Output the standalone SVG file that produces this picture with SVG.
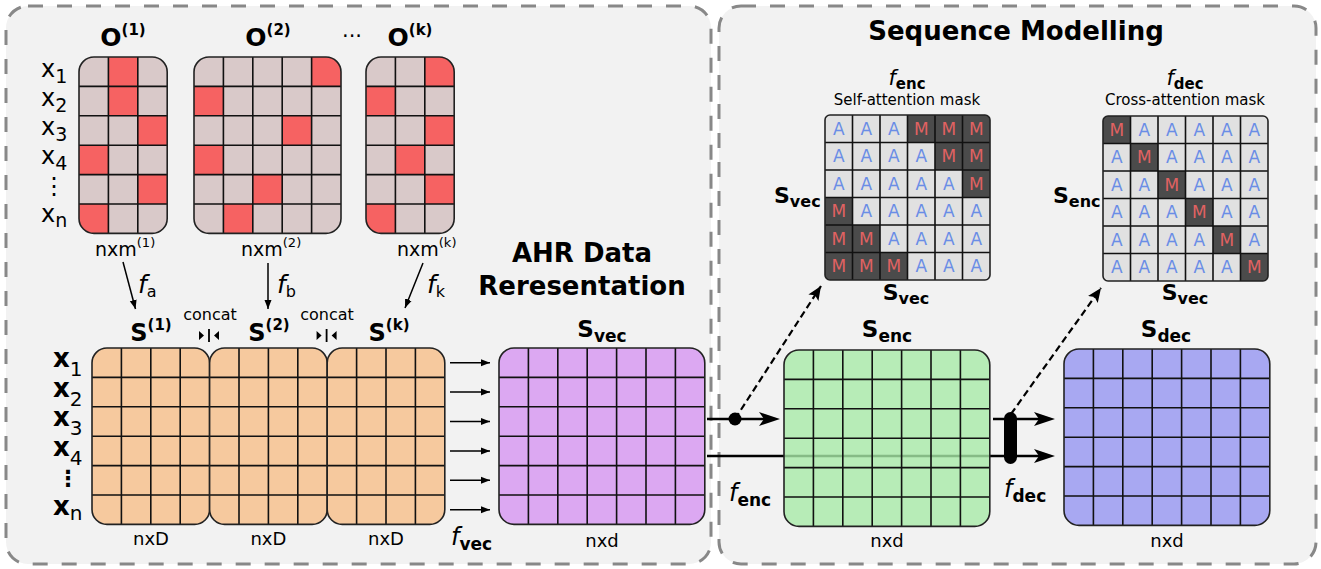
<svg xmlns="http://www.w3.org/2000/svg" width="1321" height="569" viewBox="0 0 1321 569">
<style>
text{font-family:"DejaVu Sans","Liberation Sans",sans-serif;fill:#000}
.b{font-weight:bold}
.i{font-style:italic}
.grid{fill:none;stroke:#111;stroke-width:1.6}
.out{fill:none;stroke:#222;stroke-width:1.6}
.panel{fill:#f2f2f2;stroke:#888;stroke-width:3;stroke-dasharray:15 14}
.gray{fill:#d9c9c9}
.red{fill:#f66262}
.peach{fill:#f6c99e}
.purple{fill:#dca8f2}
.green{fill:#a7eaa7;fill-opacity:.8}
.blue{fill:#a8a8f2}
.lt{fill:#e1e1e1}
.dk{fill:#4b4b4b}
.a{fill:#6a8de6;font-size:17px;text-anchor:middle}
.m{fill:#e06262;font-size:17px;text-anchor:middle}
.thin{stroke:#000;stroke-width:1.5;fill:none;marker-end:url(#ah)}
.thick{stroke:#000;stroke-width:2.5;fill:none}
.tarr{marker-end:url(#ahb)}
.dash{stroke:#000;stroke-width:2.2;fill:none;stroke-dasharray:7 4;marker-end:url(#ahd)}
</style>
<defs>
<marker id="ah" markerUnits="userSpaceOnUse" markerWidth="10" markerHeight="8" refX="9" refY="4" orient="auto"><path d="M0,0.5 L9,4 L0,7.5z" fill="#000"/></marker>
<marker id="ahb" markerUnits="userSpaceOnUse" markerWidth="22" markerHeight="14" refX="9" refY="7" orient="auto"><path d="M0,0 L21,7 L0,14 L5,7z" fill="#000"/></marker>
<marker id="ahd" markerUnits="userSpaceOnUse" markerWidth="15" markerHeight="12" refX="14" refY="6" orient="auto"><path d="M0,0 L14,6 L0,12 L3,6z" fill="#000"/></marker>
<clipPath id="cO1"><rect x="79" y="57" width="88.2" height="176.4" rx="15"/></clipPath>
<clipPath id="cO2"><rect x="194" y="57" width="147" height="176.4" rx="15"/></clipPath>
<clipPath id="cOk"><rect x="366" y="57" width="88.2" height="176.4" rx="15"/></clipPath>
<clipPath id="cSelf"><rect x="825" y="115" width="165" height="165" rx="5"/></clipPath>
<clipPath id="cCross"><rect x="1103" y="116" width="165" height="165" rx="5"/></clipPath>
</defs>

<g id="panels">
<rect id="panel-left" class="panel" x="6" y="6" width="705" height="558" rx="22"/>
<rect id="panel-right" class="panel" x="719" y="6" width="597" height="558" rx="22"/>
</g>

<g id="connectors">
<path class="thin" d="M123,262 L135.5,309"/>
<path class="thin" d="M268,263 V309"/>
<path class="thin" d="M423,263 L405,308"/>
<path class="thin" d="M450,362.7 H490"/>
<path class="thin" d="M450,392.1 H490"/>
<path class="thin" d="M450,421.5 H490"/>
<path class="thin" d="M450,450.9 H490"/>
<path class="thin" d="M450,480.3 H490"/>
<path class="thin" d="M450,509.7 H490"/>
<path class="thick tarr" d="M707,419 H768"/>
<path class="thick tarr" d="M707,456 H1043"/>
<path class="thick tarr" d="M993,419 H1043"/>
<circle cx="735" cy="419" r="6.5" fill="#000"/>
<path class="dash" d="M735,419 L821,286"/>
<rect x="1004" y="412" width="13" height="52" rx="6.5" fill="#000"/>
<path class="dash" d="M1011,414 L1101,288"/>
</g>

<g id="O1">
<rect class="gray" x="79" y="57" width="88.2" height="176.4" rx="15"/>
<g clip-path="url(#cO1)" class="red">
<rect x="108.4" y="57" width="29.4" height="29.4"/><rect x="108.4" y="86.4" width="29.4" height="29.4"/><rect x="137.8" y="115.8" width="29.4" height="29.4"/><rect x="79" y="145.2" width="29.4" height="29.4"/><rect x="137.8" y="174.6" width="29.4" height="29.4"/><rect x="79" y="204" width="29.4" height="29.4"/>
</g>
<path class="grid" d="M108.4,57V233.4M137.8,57V233.4M79,86.4H167.2M79,115.8H167.2M79,145.2H167.2M79,174.6H167.2M79,204H167.2"/>
<rect class="out" x="79" y="57" width="88.2" height="176.4" rx="15"/>
<text class="b" x="123" y="46" text-anchor="middle"><tspan font-size="25">O</tspan><tspan font-size="15" dy="-11">(1)</tspan></text>
<text x="95" y="256" font-size="19">nxm<tspan font-size="13" dy="-9">(1)</tspan></text>
</g>

<g id="O2">
<rect class="gray" x="194" y="57" width="147" height="176.4" rx="15"/>
<g clip-path="url(#cO2)" class="red">
<rect x="311.6" y="57" width="29.4" height="29.4"/><rect x="194" y="86.4" width="29.4" height="29.4"/><rect x="282.2" y="115.8" width="29.4" height="29.4"/><rect x="194" y="145.2" width="29.4" height="29.4"/><rect x="252.8" y="174.6" width="29.4" height="29.4"/><rect x="223.4" y="204" width="29.4" height="29.4"/>
</g>
<path class="grid" d="M223.4,57V233.4M252.8,57V233.4M282.2,57V233.4M311.6,57V233.4M194,86.4H341M194,115.8H341M194,145.2H341M194,174.6H341M194,204H341"/>
<rect class="out" x="194" y="57" width="147" height="176.4" rx="15"/>
<text class="b" x="268" y="46" text-anchor="middle"><tspan font-size="25">O</tspan><tspan font-size="15" dy="-11">(2)</tspan></text>
<text x="241" y="256" font-size="19">nxm<tspan font-size="13" dy="-9">(2)</tspan></text>
</g>

<text x="352" y="37" font-size="21" text-anchor="middle">...</text>

<g id="Ok">
<rect class="gray" x="366" y="57" width="88.2" height="176.4" rx="15"/>
<g clip-path="url(#cOk)" class="red">
<rect x="424.8" y="57" width="29.4" height="29.4"/><rect x="366" y="86.4" width="29.4" height="29.4"/><rect x="424.8" y="115.8" width="29.4" height="29.4"/><rect x="395.4" y="145.2" width="29.4" height="29.4"/><rect x="424.8" y="174.6" width="29.4" height="29.4"/><rect x="366" y="204" width="29.4" height="29.4"/>
</g>
<path class="grid" d="M395.4,57V233.4M424.8,57V233.4M366,86.4H454.2M366,115.8H454.2M366,145.2H454.2M366,174.6H454.2M366,204H454.2"/>
<rect class="out" x="366" y="57" width="88.2" height="176.4" rx="15"/>
<text class="b" x="410" y="46" text-anchor="middle"><tspan font-size="25">O</tspan><tspan font-size="15" dy="-11">(k)</tspan></text>
<text x="397" y="256" font-size="19">nxm<tspan font-size="13" dy="-9">(k)</tspan></text>
</g>

<g id="x-labels-top" font-size="24">
<text x="41" y="77">x<tspan font-size="19" dy="6">1</tspan></text>
<text x="41" y="106">x<tspan font-size="19" dy="6">2</tspan></text>
<text x="41" y="135">x<tspan font-size="19" dy="6">3</tspan></text>
<text x="41" y="164">x<tspan font-size="19" dy="6">4</tspan></text>
<text x="54" y="194" text-anchor="middle">⋮</text>
<text x="41" y="222">x<tspan font-size="19" dy="5">n</tspan></text>
</g>

<g id="fa-labels">
<text x="138" y="293"><tspan class="i" font-size="25">f</tspan><tspan font-size="16" dy="4">a</tspan></text>
<text x="277" y="293"><tspan class="i" font-size="25">f</tspan><tspan font-size="16" dy="4">b</tspan></text>
<text x="427" y="293"><tspan class="i" font-size="25">f</tspan><tspan font-size="16" dy="4">k</tspan></text>
</g>

<g id="S1">
<rect class="peach" x="92" y="348" width="117.6" height="176.4" rx="15"/>
<path class="grid" d="M121.4,348V524.4M150.8,348V524.4M180.2,348V524.4M92,377.4H209.6M92,406.8H209.6M92,436.2H209.6M92,465.6H209.6M92,495H209.6"/>
<rect class="out" x="92" y="348" width="117.6" height="176.4" rx="15"/>
<text class="b" x="151" y="341" text-anchor="middle"><tspan font-size="24">S</tspan><tspan font-size="15" dy="-11">(1)</tspan></text>
<text x="151" y="545" font-size="18" text-anchor="middle">nxD</text>
</g>
<g id="S2">
<rect class="peach" x="209.6" y="348" width="117.6" height="176.4" rx="15"/>
<path class="grid" d="M239,348V524.4M268.4,348V524.4M297.8,348V524.4M209.6,377.4H327.2M209.6,406.8H327.2M209.6,436.2H327.2M209.6,465.6H327.2M209.6,495H327.2"/>
<rect class="out" x="209.6" y="348" width="117.6" height="176.4" rx="15"/>
<text class="b" x="269" y="341" text-anchor="middle"><tspan font-size="24">S</tspan><tspan font-size="15" dy="-11">(2)</tspan></text>
<text x="268.4" y="545" font-size="18" text-anchor="middle">nxD</text>
</g>
<g id="Sk">
<rect class="peach" x="327.2" y="348" width="117.6" height="176.4" rx="15"/>
<path class="grid" d="M356.6,348V524.4M386,348V524.4M415.4,348V524.4M327.2,377.4H444.8M327.2,406.8H444.8M327.2,436.2H444.8M327.2,465.6H444.8M327.2,495H444.8"/>
<rect class="out" x="327.2" y="348" width="117.6" height="176.4" rx="15"/>
<text class="b" x="389" y="341" text-anchor="middle"><tspan font-size="24">S</tspan><tspan font-size="15" dy="-11">(k)</tspan></text>
<text x="386" y="545" font-size="18" text-anchor="middle">nxD</text>
</g>

<g id="concat">
<text x="210" y="320" font-size="16" text-anchor="middle">concat</text>
<text x="327" y="320" font-size="16" text-anchor="middle">concat</text>
<path d="M199,331 L204,335.5 L199,340z M219,331 L214,335.5 L219,340z M316.6,331 L321.6,335.5 L316.6,340z M336.6,331 L331.6,335.5 L336.6,340z" fill="#000"/>
<path d="M209,329V342 M326.6,329V342" stroke="#000" stroke-width="1.8"/>
</g>

<g id="x-labels-bottom">
<text x="53" y="367"><tspan class="b" font-size="26">x</tspan><tspan font-size="20" dy="9">1</tspan></text>
<text x="53" y="396.5"><tspan class="b" font-size="26">x</tspan><tspan font-size="20" dy="9">2</tspan></text>
<text x="53" y="426"><tspan class="b" font-size="26">x</tspan><tspan font-size="20" dy="9">3</tspan></text>
<text x="53" y="455.5"><tspan class="b" font-size="26">x</tspan><tspan font-size="20" dy="9">4</tspan></text>
<text x="68" y="486" class="b" font-size="22" text-anchor="middle">⋮</text>
<text x="53" y="515"><tspan class="b" font-size="26">x</tspan><tspan font-size="20" dy="5">n</tspan></text>
</g>

<text x="451" y="545"><tspan class="i" font-size="24">f</tspan><tspan class="b" font-size="17" dy="5">vec</tspan></text>

<g id="ahr-title" class="b" font-size="26">
<text x="582" y="262" text-anchor="middle">AHR Data</text>
<text x="582" y="295" text-anchor="middle">Reresentation</text>
</g>

<g id="Svec">
<rect class="purple" x="499" y="348" width="205.8" height="176.4" rx="15"/>
<path class="grid" d="M528.4,348V524.4M557.8,348V524.4M587.2,348V524.4M616.6,348V524.4M646,348V524.4M675.4,348V524.4M499,377.4H704.8M499,406.8H704.8M499,436.2H704.8M499,465.6H704.8M499,495H704.8"/>
<rect class="out" x="499" y="348" width="205.8" height="176.4" rx="15"/>
<text class="b" x="602" y="337" text-anchor="middle"><tspan font-size="23">S</tspan><tspan font-size="17" dy="5">vec</tspan></text>
<text x="602" y="547" font-size="18" text-anchor="middle">nxd</text>
</g>

<text class="b" x="1016" y="40" font-size="26" text-anchor="middle">Sequence Modelling</text>

<g id="self-mask">
<rect class="lt" x="825" y="115" width="165" height="165" rx="5"/>
<g clip-path="url(#cSelf)" class="dk">
<rect x="907.5" y="115" width="82.5" height="27.5"/><rect x="935" y="142.5" width="55" height="27.5"/><rect x="962.5" y="170" width="27.5" height="27.5"/><rect x="825" y="197.5" width="27.5" height="27.5"/><rect x="825" y="225" width="55" height="27.5"/><rect x="825" y="252.5" width="82.5" height="27.5"/>
</g>
<path class="grid" d="M852.5,115V280M880,115V280M907.5,115V280M935,115V280M962.5,115V280M825,142.5H990M825,170H990M825,197.5H990M825,225H990M825,252.5H990"/>
<rect class="out" x="825" y="115" width="165" height="165" rx="5"/>
<text class="a" x="838.75 866.25 893.75" y="134.75">AAA</text><text class="m" x="921.25 948.75 976.25" y="134.75">MMM</text>
<text class="a" x="838.75 866.25 893.75 921.25" y="162.25">AAAA</text><text class="m" x="948.75 976.25" y="162.25">MM</text>
<text class="a" x="838.75 866.25 893.75 921.25 948.75" y="189.75">AAAAA</text><text class="m" x="976.25" y="189.75">M</text>
<text class="m" x="838.75" y="217.25">M</text><text class="a" x="866.25 893.75 921.25 948.75 976.25" y="217.25">AAAAA</text>
<text class="m" x="838.75 866.25" y="244.75">MM</text><text class="a" x="893.75 921.25 948.75 976.25" y="244.75">AAAA</text>
<text class="m" x="838.75 866.25 893.75" y="272.25">MMM</text><text class="a" x="921.25 948.75 976.25" y="272.25">AAA</text>
<text x="907" y="85" text-anchor="middle"><tspan class="i" font-size="21">f</tspan><tspan class="b" font-size="15" dy="4">enc</tspan></text>
<text x="907" y="105" font-size="15" text-anchor="middle">Self-attention mask</text>
<text class="b" x="774" y="203"><tspan font-size="22">S</tspan><tspan font-size="16" dy="4">vec</tspan></text>
<text class="b" x="906" y="300" text-anchor="middle"><tspan font-size="22">S</tspan><tspan font-size="16" dy="4">vec</tspan></text>
</g>

<g id="cross-mask">
<rect class="lt" x="1103" y="116" width="165" height="165" rx="5"/>
<g clip-path="url(#cCross)" class="dk">
<rect x="1103" y="116" width="27.5" height="27.5"/><rect x="1130.5" y="143.5" width="27.5" height="27.5"/><rect x="1158" y="171" width="27.5" height="27.5"/><rect x="1185.5" y="198.5" width="27.5" height="27.5"/><rect x="1213" y="226" width="27.5" height="27.5"/><rect x="1240.5" y="253.5" width="27.5" height="27.5"/>
</g>
<path class="grid" d="M1130.5,116V281M1158,116V281M1185.5,116V281M1213,116V281M1240.5,116V281M1103,143.5H1268M1103,171H1268M1103,198.5H1268M1103,226H1268M1103,253.5H1268"/>
<rect class="out" x="1103" y="116" width="165" height="165" rx="5"/>
<text class="m" x="1116.75" y="135.75">M</text><text class="a" x="1144.25 1171.75 1199.25 1226.75 1254.25" y="135.75">AAAAA</text>
<text class="a" x="1116.75" y="163.25">A</text><text class="m" x="1144.25" y="163.25">M</text><text class="a" x="1171.75 1199.25 1226.75 1254.25" y="163.25">AAAA</text>
<text class="a" x="1116.75 1144.25" y="190.75">AA</text><text class="m" x="1171.75" y="190.75">M</text><text class="a" x="1199.25 1226.75 1254.25" y="190.75">AAA</text>
<text class="a" x="1116.75 1144.25 1171.75" y="218.25">AAA</text><text class="m" x="1199.25" y="218.25">M</text><text class="a" x="1226.75 1254.25" y="218.25">AA</text>
<text class="a" x="1116.75 1144.25 1171.75 1199.25" y="245.75">AAAA</text><text class="m" x="1226.75" y="245.75">M</text><text class="a" x="1254.25" y="245.75">A</text>
<text class="a" x="1116.75 1144.25 1171.75 1199.25 1226.75" y="273.25">AAAAA</text><text class="m" x="1254.25" y="273.25">M</text>
<text x="1185" y="85" text-anchor="middle"><tspan class="i" font-size="21">f</tspan><tspan class="b" font-size="15" dy="4">dec</tspan></text>
<text x="1185" y="105" font-size="15" text-anchor="middle">Cross-attention mask</text>
<text class="b" x="1053" y="203"><tspan font-size="22">S</tspan><tspan font-size="16" dy="4">enc</tspan></text>
<text class="b" x="1185" y="300" text-anchor="middle"><tspan font-size="22">S</tspan><tspan font-size="16" dy="4">vec</tspan></text>
</g>

<g id="Senc">
<rect class="green" x="784" y="350" width="205.8" height="176.4" rx="15"/>
<path class="grid" d="M813.4,350V526.4M842.8,350V526.4M872.2,350V526.4M901.6,350V526.4M931,350V526.4M960.4,350V526.4M784,379.4H989.8M784,408.8H989.8M784,438.2H989.8M784,467.6H989.8M784,497H989.8"/>
<rect class="out" x="784" y="350" width="205.8" height="176.4" rx="15"/>
<text class="b" x="887" y="337" text-anchor="middle"><tspan font-size="23">S</tspan><tspan font-size="17" dy="5">enc</tspan></text>
<text x="887" y="547" font-size="18" text-anchor="middle">nxd</text>
<text x="729" y="501"><tspan class="i" font-size="24">f</tspan><tspan class="b" font-size="17" dy="5">enc</tspan></text>
</g>

<g id="Sdec">
<rect class="blue" x="1064" y="349" width="205.8" height="176.4" rx="15"/>
<path class="grid" d="M1093.4,349V525.4M1122.8,349V525.4M1152.2,349V525.4M1181.6,349V525.4M1211,349V525.4M1240.4,349V525.4M1064,378.4H1269.8M1064,407.8H1269.8M1064,437.2H1269.8M1064,466.6H1269.8M1064,496H1269.8"/>
<rect class="out" x="1064" y="349" width="205.8" height="176.4" rx="15"/>
<text class="b" x="1166" y="337" text-anchor="middle"><tspan font-size="23">S</tspan><tspan font-size="17" dy="5">dec</tspan></text>
<text x="1167" y="547" font-size="18" text-anchor="middle">nxd</text>
<text x="1004" y="497"><tspan class="i" font-size="24">f</tspan><tspan class="b" font-size="17" dy="5">dec</tspan></text>
</g>
</svg>
